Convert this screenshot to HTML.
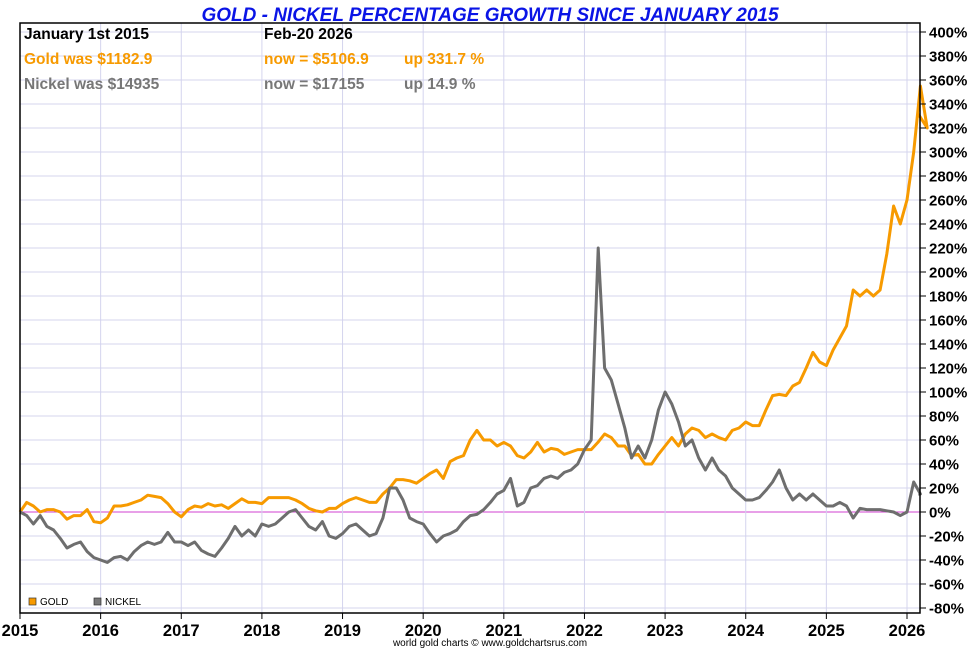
<!DOCTYPE html>
<html><head><meta charset="utf-8">
<style>
body{margin:0;background:#fff;width:980px;height:650px;overflow:hidden;font-family:"Liberation Sans",Arial,sans-serif}
svg text{font-family:"Liberation Sans",Arial,sans-serif}
</style></head>
<body>
<svg id="chart" width="980" height="650" xmlns="http://www.w3.org/2000/svg">
<text x="490" y="21" text-anchor="middle" font-size="19" font-weight="bold" font-style="italic" fill="#0a14e6">GOLD - NICKEL PERCENTAGE GROWTH SINCE JANUARY 2015</text>
<g id="grid"></g>
<g id="series"></g>
<rect x="20" y="23" width="900" height="590" fill="none" stroke="#000" stroke-width="1.5"/>
<g id="axes"></g>
<g font-size="15.5" font-weight="bold">
<text x="24" y="39" fill="#000">January 1st 2015</text>
<text x="264" y="39" fill="#000">Feb-20  2026</text>
<text x="24" y="64" fill="#f79a00">Gold was $1182.9</text>
<text x="264" y="64" fill="#f79a00">now = $5106.9</text>
<text x="404" y="64" fill="#f79a00">up 331.7 %</text>
<text x="24" y="89" fill="#777">Nickel was $14935</text>
<text x="264" y="89" fill="#777">now = $17155</text>
<text x="404" y="89" fill="#777">up 14.9 %</text>
</g>
<g font-size="10">
<rect x="29" y="598" width="7" height="7" fill="#f79a00" stroke="#333" stroke-width="0.7"/>
<text x="40" y="605" fill="#000">GOLD</text>
<rect x="94" y="598" width="7" height="7" fill="#777" stroke="#333" stroke-width="0.7"/>
<text x="105" y="605" fill="#000">NICKEL</text>
</g>
<text x="490" y="646" text-anchor="middle" font-size="10" fill="#000">world gold charts © www.goldchartsrus.com</text>
</svg>
<script>
const yearTicks=[2015,2016,2017,2018,2019,2020,2021,2022,2023,2024,2025,2026];
const pctTicks=[-80,-60,-40,-20,0,20,40,60,80,100,120,140,160,180,200,220,240,260,280,300,320,340,360,380,400];
const goldDates=[];const nickelDates=[];
const goldValues=[0,8,5,0,2,2,0,-6,-3,-3,2,-8,-9,
-5,5,5,6,8,10,14,13,12,7,0,-4,
2,5,4,7,5,6,3,7,11,8,8,7,
12,12,12,12,10,7,3,1,0,3,3,7,
10,12,10,8,8,15,20,27,27,26,24,28,
32,35,28,42,45,47,60,68,60,60,55,58,
55,47,45,50,58,50,53,52,48,50,52,52,
52,58,65,62,55,55,47,48,40,40,48,55,
62,55,65,70,68,62,65,62,60,68,70,75,
72,72,85,97,98,97,105,108,120,133,125,122,
135,145,155,185,180,185,180,185,215,255,240,260,
300,355,320,331.7];
const nickelValues=[0,-3,-10,-3,-12,-15,-22,-30,-27,-25,-33,-38,-40,
-42,-38,-37,-40,-33,-28,-25,-27,-25,-17,-25,-25,
-28,-25,-32,-35,-37,-30,-22,-12,-20,-15,-20,-10,
-12,-10,-5,0,2,-5,-12,-15,-8,-20,-22,-18,
-12,-10,-15,-20,-18,-5,20,20,10,-5,-8,-10,
-18,-25,-20,-18,-15,-8,-3,-2,2,8,15,18,
28,5,8,20,22,28,30,28,33,35,40,52,
60,220,120,110,90,70,45,55,45,60,85,100,
90,75,55,60,45,35,45,35,30,20,15,10,
10,12,18,25,35,20,10,15,10,15,10,5,
5,8,5,-5,3,2,2,2,1,0,-3,0,
25,15,14.9];
for(let i=0;i<goldValues.length-1;i++){goldDates.push(2015+i/12);}
goldDates.push(2026.14);
for(let i=0;i<nickelValues.length;i++){nickelDates.push(2015+i/12);}
nickelDates[86]=2022.17; nickelDates[nickelDates.length-1]=2026.14;
const X0=20,X1=907,Y0=512,PPP=1.2;
const xs=t=>X0+(t-2015)*(X1-X0)/11;
const ys=v=>Y0-v*PPP;
const NS="http://www.w3.org/2000/svg";
const grid=document.getElementById('grid'),axes=document.getElementById('axes'),series=document.getElementById('series');
function mk(tag,attrs,parent){const e=document.createElementNS(NS,tag);for(const k in attrs)e.setAttribute(k,attrs[k]);parent.appendChild(e);return e;}
pctTicks.forEach(p=>{
 const y=ys(p);
 const l=mk('line',{x1:20,x2:920,y1:y,y2:y,stroke:p===0?'#d040d0':'#d4d4ee','stroke-width':1},grid);
 
 
 const tk=mk('line',{x1:920,x2:926,y1:y,y2:y,stroke:'#000'},axes);
 
 
 const t=mk('text',{x:929,y:y+5.5,'font-size':15,'font-weight':'bold',fill:'#000'},axes);
 t.textContent=p+'%';
 
 
});
yearTicks.forEach(yr=>{
 const x=xs(yr);
 const l=mk('line',{x1:x,x2:x,y1:23,y2:613,stroke:'#d4d4ee'},grid);
 
 
 const tk=mk('line',{x1:x,x2:x,y1:613,y2:619,stroke:'#000'},axes);
 
 
 const t=mk('text',{x:x,y:636,'font-size':16.5,'font-weight':'bold','text-anchor':'middle',fill:'#000'},axes);
 t.textContent=yr;
 
 
});
function path(dates,vals){return dates.map((d,i)=>(i?'L':'M')+xs(d).toFixed(1)+','+ys(vals[i]).toFixed(1)).join(' ');}
const gp=mk('path',{d:path(goldDates,goldValues),fill:'none',stroke:'#f79a00','stroke-width':3,'stroke-linejoin':'round'},series);


const np=mk('path',{d:path(nickelDates,nickelValues),fill:'none',stroke:'#6e6e6e','stroke-width':3,'stroke-linejoin':'round'},series);


</script>
</body></html>
